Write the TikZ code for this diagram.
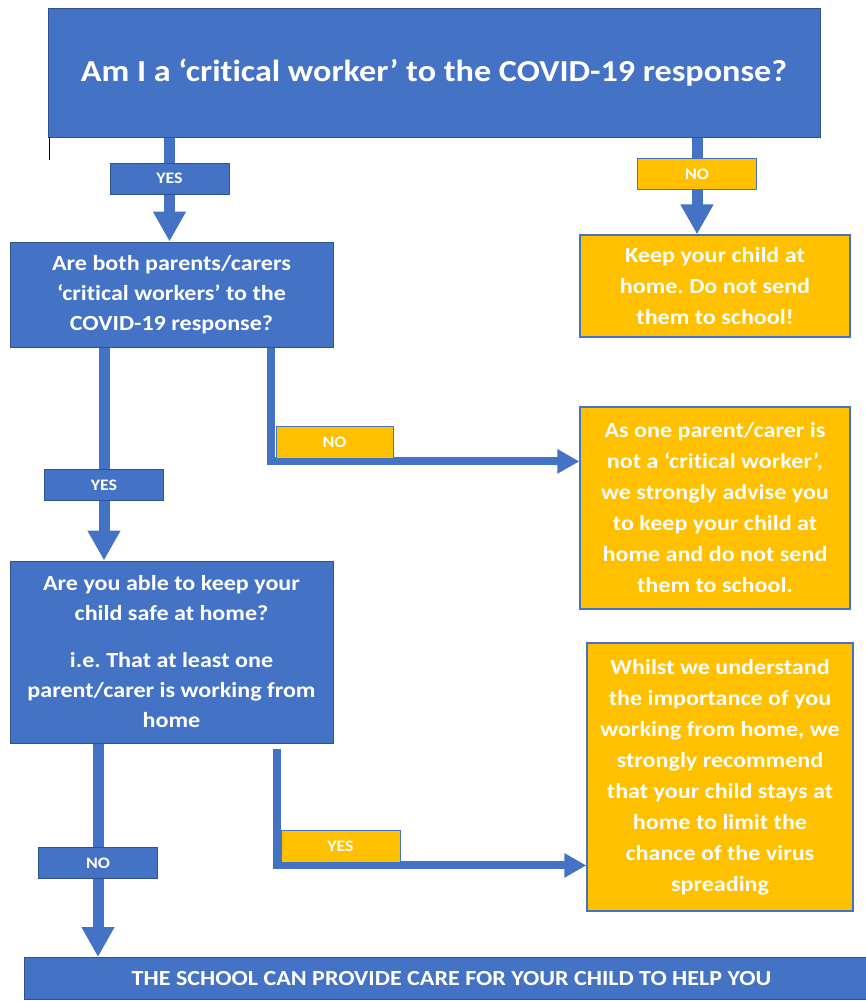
\documentclass[tikz,border=0pt]{standalone}
\usepackage{fontspec}
\setmainfont{Carlito}[Ligatures=NoCommon,FakeStretch=1.12]
\usetikzlibrary{arrows.meta,calc}
\frenchspacing

\definecolor{flowblue}{HTML}{4472C4}
\definecolor{flowgold}{HTML}{FFC000}
\definecolor{flowedge}{HTML}{2F528F}

\begin{document}
\begin{tikzpicture}[x=1pt,y=-1pt,
    question/.style={draw=flowedge,line width=1pt,fill=flowblue,text=white,align=center,inner sep=0pt,
      font=\bfseries\fontsize{21.5}{30}\selectfont},
    answer/.style={draw=flowblue,line width=1.2pt,fill=flowgold,text=white,align=center,inner sep=0pt,
      font=\bfseries\fontsize{21.5}{31}\selectfont},
    yeslabel/.style={draw=flowedge,line width=1pt,fill=flowblue,text=white,inner sep=0pt,
      minimum width=119pt,minimum height=31pt,font=\bfseries\fontsize{16}{18}\selectfont},
    nolabel/.style={yeslabel,draw=flowblue,fill=flowgold},
    shaft/.style={draw=flowblue,line width=11pt,-{Triangle[width=31pt,length=30pt]}},
    elbow/.style={draw=flowblue,line width=8pt,-{Triangle[width=23pt,length=22pt]}}]
    \useasboundingbox (0,0) rectangle (865,1001);

    % Questions
    \node[question,minimum width=772pt,minimum height=129pt,font=\bfseries\fontsize{30.5}{34}\selectfont]
      (worker) at (434,72.5) {Am I a ‘critical worker’ to the COVID-19 response?};
    \node[question,minimum width=323pt,minimum height=105pt] (both) at (171.5,294.5)
      {Are both parents/carers\\ ‘critical workers’ to the\\ COVID-19 response?};
    \node[question,minimum width=323pt,minimum height=182pt] (safe) at (171.5,652)
      {Are you able to keep your\\ child safe at home?\\[17pt] i.e. That at least one\\ parent/carer is working from\\ home};

    % Outcomes
    \node[answer,minimum width=270pt,minimum height=102pt] (keep) at (715,286)
      {Keep your child at\\ home. Do not send\\ them to school!};
    \node[answer,minimum width=270pt,minimum height=202pt] (advise) at (715,508)
      {As one parent/carer is\\ not a ‘critical worker’,\\ we strongly advise you\\ to keep your child at\\ home and do not send\\ them to school.};
    \node[answer,minimum width=266pt,minimum height=268pt] (stay) at (720,777)
      {Whilst we understand\\ the importance of you\\ working from home, we\\ strongly recommend\\ that your child stays at\\ home to limit the\\ chance of the virus\\ spreading};
    \node[question,minimum width=854pt,minimum height=42pt,anchor=north west,
      font=\bfseries\fontsize{21.5}{24}\selectfont] (care) at (24,957)
      {THE SCHOOL CAN PROVIDE CARE FOR YOUR CHILD TO HELP YOU};

    % stray mark under the title box
    \draw[black,line width=0.8pt] (49,137) -- (49,160);

    % Labels on the connectors
    \coordinate (yesA) at (169.5,178.5);
    \coordinate (noA) at (697,174);
    \coordinate (yesB) at (104,485);
    \coordinate (noC) at (98,863);

    % Connectors
    \draw[shaft] (worker.south -| yesA) -- (both.north -| yesA);
    \draw[shaft] (worker.south -| noA) -- (keep.north -| noA);
    \draw[shaft] (both.south -| yesB) -- (safe.north -| yesB);
    \draw[elbow] ($(both.south east)+(-63,0)$) |- ($(advise.north west)+(0,55)$);
    \draw[shaft] (safe.south -| noC) -- (care.north -| noC);
    \draw[elbow] ($(safe.south east)+(-57,5)$) |- ($(stay.north west)+(0,223)$);

    \node[yeslabel] (yes1) at (yesA) {YES};
    \node[nolabel] (no1) at (noA) {NO};
    \node[yeslabel] (yes2) at (yesB) {YES};
    \node[nolabel,minimum width=117pt,minimum height=32pt] (no2) at (334.5,442) {NO};
    \node[yeslabel] (no3) at (noC) {NO};
    \node[nolabel,minimum height=32pt] (yes3) at (340.5,846) {YES};
\end{tikzpicture}
\end{document}
